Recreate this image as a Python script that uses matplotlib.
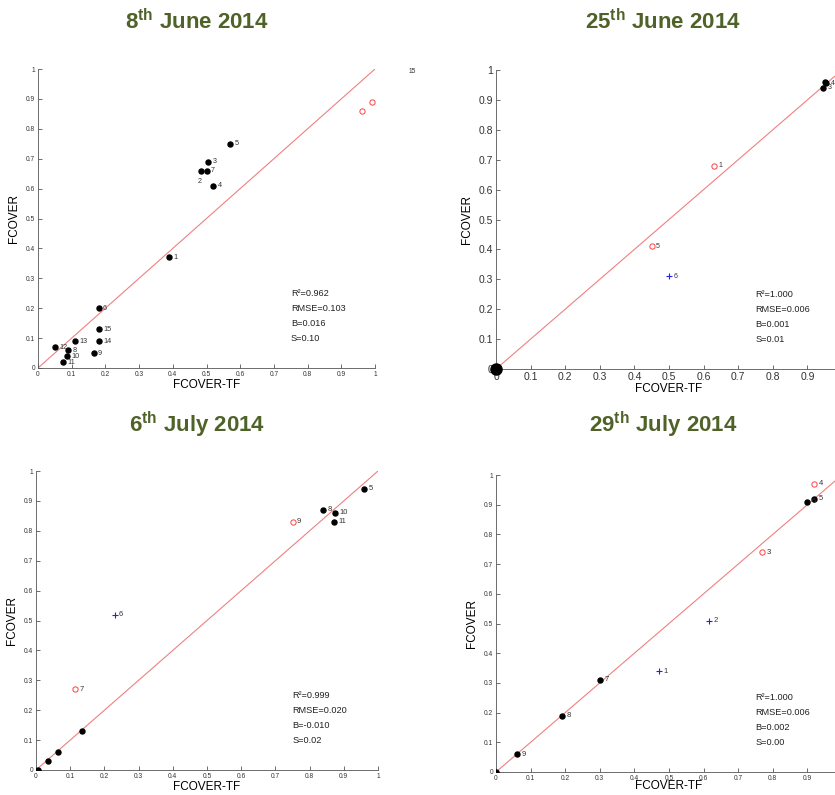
import matplotlib.pyplot as plt
import numpy as np

plt.rcParams['font.family'] = ['Liberation Sans', 'DejaVu Sans']
plt.rcParams['mathtext.fontset'] = 'custom'
plt.rcParams['mathtext.rm'] = 'Liberation Sans'
plt.rcParams['mathtext.bf'] = 'Liberation Sans:bold'

# 8th June 2014
jun08_black_x = [0.39, 0.485, 0.505, 0.52, 0.57, 0.18, 0.50, 0.09, 0.165, 0.085, 0.075, 0.05, 0.11, 0.18, 0.18]
jun08_black_y = [0.37, 0.66, 0.69, 0.61, 0.75, 0.20, 0.66, 0.06, 0.05, 0.04, 0.02, 0.07, 0.09, 0.09, 0.13]
jun08_black_lab = ['1', '2', '3', '4', '5', '6', '7', '8', '9', '10', '11', '12', '13', '14', '15']
jun08_red_x = [0.96, 0.99]
jun08_red_y = [0.86, 0.89]
jun08_red_lab = ['', '']
jun08_blue_x, jun08_blue_y, jun08_blue_lab = [], [], []
jun08_stats = ['R²=0.962', 'RMSE=0.103', 'B=0.016', 'S=0.10']

# 25th June 2014
jun25_black_x = [0.945, 0.95, 0.955]
jun25_black_y = [0.94, 0.96, 0.955]
jun25_black_lab = ['3', '', '4']
jun25_red_x = [0.63, 0.45]
jun25_red_y = [0.68, 0.41]
jun25_red_lab = ['1', '5']
jun25_blue_x = [0.50]
jun25_blue_y = [0.31]
jun25_blue_lab = ['6']
jun25_stats = ['R²=1.000', 'RMSE=0.006', 'B=0.001', 'S=0.01']

# 6th July 2014
jul06_black_x = [0.005, 0.035, 0.065, 0.135, 0.84, 0.875, 0.87, 0.96]
jul06_black_y = [0.0, 0.03, 0.06, 0.13, 0.87, 0.86, 0.83, 0.94]
jul06_black_lab = ['', '', '', '', '8', '10', '11', '5']
jul06_red_x = [0.75, 0.115]
jul06_red_y = [0.83, 0.27]
jul06_red_lab = ['9', '7']
jul06_blue_x = [0.23]
jul06_blue_y = [0.52]
jul06_blue_lab = ['6']
jul06_stats = ['R²=0.999', 'RMSE=0.020', 'B=-0.010', 'S=0.02']

# 29th July 2014
jul29_black_x = [0.0, 0.06, 0.19, 0.30, 0.90, 0.92]
jul29_black_y = [0.0, 0.06, 0.19, 0.31, 0.91, 0.92]
jul29_black_lab = ['', '9', '8', '7', '6', '5']
jul29_red_x = [0.92, 0.77]
jul29_red_y = [0.97, 0.74]
jul29_red_lab = ['4', '3']
jul29_blue_x = [0.47, 0.615]
jul29_blue_y = [0.34, 0.51]
jul29_blue_lab = ['1', '2']
jul29_stats = ['R²=1.000', 'RMSE=0.006', 'B=0.002', 'S=0.00']

titles = ['8$^{\\mathbf{th}}$ June 2014', '25$^{\\mathbf{th}}$ June 2014',
          '6$^{\\mathbf{th}}$ July 2014', '29$^{\\mathbf{th}}$ July 2014']

W, H = 835, 795
fig = plt.figure(figsize=(W / 100, H / 100), dpi=100)
title_col = '#4f6228'


def px_axes(x0, x1, ytop, ybot):
    return fig.add_axes([x0 / W, 1 - ybot / H, (x1 - x0) / W, (ybot - ytop) / H])


def panel(ax, bx, by, blab, rx, ry, rlab, ux, uy, ulab, stats, tick_fs, lab_fs,
          below=(), big_origin=False, xmax_tick=1.0, xlabelpad=1):
    ax.plot([0, 1], [0, 1], color='#f08080', lw=0.8, zorder=1)
    ax.plot(bx, by, 'o', color='black', ms=3.6, zorder=3)
    ax.plot(rx, ry, 'o', mfc='none', mec='#ff4040', mew=0.7, ms=3.8, zorder=3)
    ax.plot(ux, uy, '+', color='#2020ff', mew=0.8, ms=5, zorder=3)
    for xs, ys, labs in [(bx, by, blab), (rx, ry, rlab), (ux, uy, ulab)]:
        for x, y, t in zip(xs, ys, labs):
            if not t:
                continue
            if t in below:
                ax.text(x - 0.005, y - 0.035, t, fontsize=lab_fs, color='#333333',
                        ha='center', va='center', clip_on=False)
            else:
                ax.text(x + 0.013, y, t, fontsize=lab_fs, color='#333333',
                        ha='left', va='center', clip_on=False)
    if big_origin:
        ax.plot([0], [0], 'o', color='black', ms=8, zorder=4, clip_on=False)
    for i, s in enumerate(stats):
        ax.text(0.75, 0.25 - 0.05 * i, s, fontsize=6.6, color='#222222',
                ha='left', va='center')
    ax.set_xlim(0, 1)
    ax.set_ylim(0, 1)
    ticks = np.round(np.arange(0, 1.01, 0.1), 1)
    xt = ticks[ticks <= xmax_tick + 1e-9]
    ax.set_xticks(xt)
    ax.set_yticks(ticks)
    ax.set_xticklabels(['0'] + [f'{t:g}' for t in xt[1:]])
    ax.set_yticklabels(['0'] + [f'{t:g}' for t in ticks[1:]])
    ax.tick_params(direction='in', length=3, width=0.5, labelsize=tick_fs,
                   colors='#333333', pad=2)
    for s in ['top', 'right']:
        ax.spines[s].set_visible(False)
    for s in ['left', 'bottom']:
        ax.spines[s].set_linewidth(0.6)
        ax.spines[s].set_color('#555555')
    ax.set_xlabel('FCOVER-TF', fontsize=8.5, labelpad=xlabelpad)
    ax.set_ylabel('FCOVER', fontsize=8.5, labelpad=4)


ax1 = px_axes(38, 375, 69, 368)
panel(ax1, jun08_black_x, jun08_black_y, jun08_black_lab, jun08_red_x, jun08_red_y,
      jun08_red_lab, jun08_blue_x, jun08_blue_y, jun08_blue_lab, jun08_stats,
      4.8, 5.2, below=('2',))
ax1.text(1.11, 0.99, '15', fontsize=4.8, color='#333333', ha='center', va='center',
         clip_on=False)

ax2 = px_axes(496, 842, 70, 369)
panel(ax2, jun25_black_x, jun25_black_y, jun25_black_lab, jun25_red_x, jun25_red_y,
      jun25_red_lab, jun25_blue_x, jun25_blue_y, jun25_blue_lab, jun25_stats,
      7.5, 5, big_origin=True, xmax_tick=0.9)

ax3 = px_axes(36, 378, 471, 770)
panel(ax3, jul06_black_x, jul06_black_y, jul06_black_lab, jul06_red_x, jul06_red_y,
      jul06_red_lab, jul06_blue_x, jul06_blue_y, jul06_blue_lab, jul06_stats,
      4.8, 5.5)

ax4 = px_axes(496, 842, 475, 772)
panel(ax4, jul29_black_x, jul29_black_y, jul29_black_lab, jul29_red_x, jul29_red_y,
      jul29_red_lab, jul29_blue_x, jul29_blue_y, jul29_blue_lab, jul29_stats,
      4.8, 5.5, xmax_tick=0.9, xlabelpad=-1)

# panel titles
for (cx, cy), t in zip([(197, 22), (663, 22), (197, 425), (663, 425)], titles):
    fig.text(cx / W, 1 - cy / H, t, fontsize=16, fontweight='bold', color=title_col,
             ha='center', va='center')

fig.savefig('out.png', dpi=100)
